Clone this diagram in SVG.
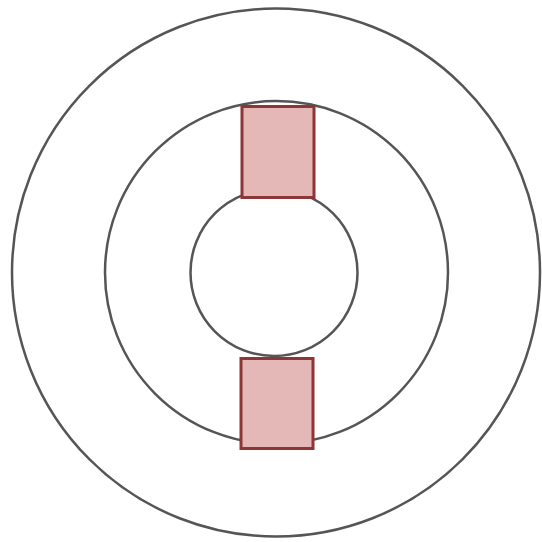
<svg xmlns="http://www.w3.org/2000/svg" width="542" height="542" viewBox="0 0 542 542">
<style>
.ring{fill:none;stroke:#555;stroke-width:2.5}
.blk{fill:#e5b8b8;stroke:#8e3535;stroke-width:3}
</style>
<rect width="542" height="542" fill="#fff"/>
<g id="outer"><circle class="ring" cx="276" cy="272.5" r="264"/></g>
<g id="middle"><circle class="ring" cx="276.5" cy="272.5" r="171.5"/></g>
<g id="inner"><circle class="ring" cx="274" cy="272.5" r="83.5"/></g>
<g id="top-block"><rect class="blk" x="242" y="106.5" width="72" height="91"/></g>
<g id="bottom-block"><rect class="blk" x="241" y="358.5" width="72" height="90"/></g>
</svg>
